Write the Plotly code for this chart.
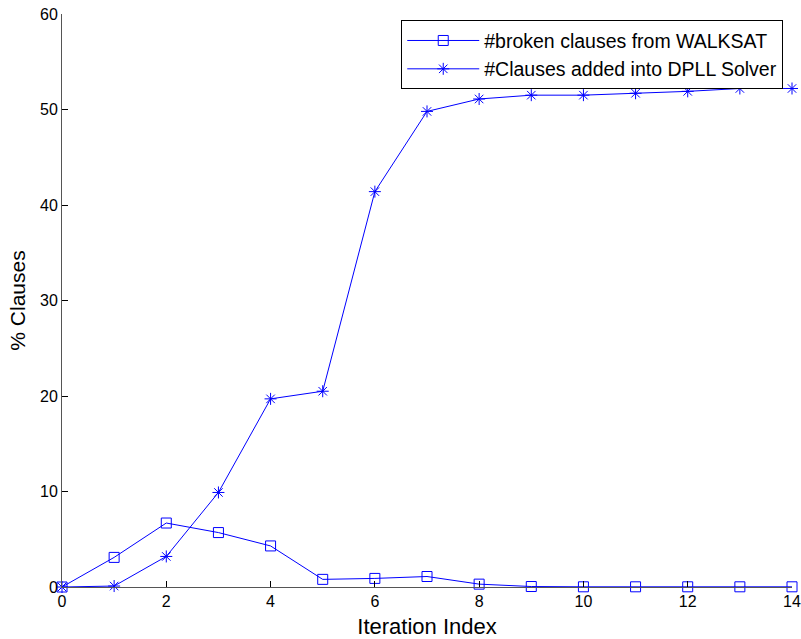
import plotly.graph_objects as go

iterations = list(range(15))
walksat = [0.0, 3.1, 6.7, 5.7, 4.3, 0.8, 0.9, 1.1, 0.3, 0.05, 0.02, 0.02, 0.02, 0.02, 0.02]
dpll = [0.0, 0.1, 3.2, 9.9, 19.7, 20.5, 41.4, 49.8, 51.1, 51.5, 51.5, 51.7, 51.9, 52.2, 52.2]
x_ticks = list(range(0, 15, 2))
y_ticks = list(range(0, 61, 10))

fig = go.Figure()
fig.add_trace(go.Scatter(
    x=iterations, y=walksat, mode="lines+markers",
    name="#broken clauses from WALKSAT",
    line=dict(color="#0000ff", width=1),
    marker=dict(symbol="square-open", size=10, color="#0000ff", line=dict(width=1)),
    cliponaxis=False,
))
fig.add_trace(go.Scatter(
    x=iterations, y=dpll, mode="lines+markers",
    name="#Clauses added into DPLL Solver",
    line=dict(color="#0000ff", width=1),
    marker=dict(symbol="asterisk-open", size=10, color="#0000ff", line=dict(width=1, color="#0000ff")),
    cliponaxis=False,
))

font_family = "Liberation Sans, Arial, Helvetica, sans-serif"
fig.update_layout(
    width=801, height=639,
    margin=dict(l=62, r=9, t=14, b=52, autoexpand=False),
    paper_bgcolor="white", plot_bgcolor="white",
    font=dict(family=font_family, size=16, color="black"),
    showlegend=True,
    legend=dict(
        x=0.988, y=0.989, xanchor="right", yanchor="top",
        bgcolor="white", bordercolor="black", borderwidth=1,
        font=dict(size=19.5, family=font_family),
        tracegroupgap=0, itemwidth=72,
    ),
    xaxis=dict(
        range=[0, 14], tickvals=x_ticks, ticks="inside", ticklen=6,
        tickcolor="black", showline=True, linecolor="#555555", linewidth=1,
        showgrid=False, zeroline=False, mirror=False, automargin=False,
        title=dict(text="Iteration Index", font=dict(size=22)),
        tickfont=dict(size=16),
    ),
    yaxis=dict(
        range=[0, 60], tickvals=y_ticks, ticks="inside", ticklen=6,
        tickcolor="black", showline=True, linecolor="#555555", linewidth=1,
        showgrid=False, zeroline=False, mirror=False, automargin=False,
        title=dict(text="% Clauses", font=dict(size=21), standoff=8),
        tickfont=dict(size=16),
    ),
)
fig.write_html("out.html")
